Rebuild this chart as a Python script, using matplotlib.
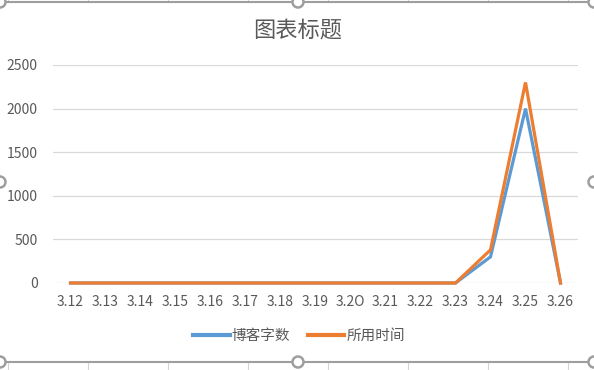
import matplotlib
matplotlib.use("Agg")
import matplotlib.pyplot as plt
from matplotlib.patches import Circle

plt.rcParams['font.family'] = ['Noto Sans CJK SC', 'DejaVu Sans']

# data
dates = ['3.12', '3.13', '3.14', '3.15', '3.16', '3.17', '3.18', '3.19',
         '3.2O', '3.21', '3.22', '3.23', '3.24', '3.25', '3.26']
words = [0, 0, 0, 0, 0, 0, 0, 0, 0, 0, 0, 0, 300, 2000, 0]
minutes = [0, 0, 0, 0, 0, 0, 0, 0, 0, 0, 0, 0, 380, 2300, 0]
y_ticks = [0, 500, 1000, 1500, 2000, 2500]

W, H = 594, 370
txt = '#595959'

fig = plt.figure(figsize=(W / 100, H / 100), dpi=100)
ax = fig.add_axes([53 / W, (H - 283) / H, 525 / W, 218 / H])

x = list(range(len(dates)))
ax.plot(x, words, color='#5B9BD5', linewidth=2.3, label='博客字数',
        clip_on=False, zorder=3, solid_joinstyle='miter')
ax.plot(x, minutes, color='#ED7D31', linewidth=2.3, label='所用时间',
        clip_on=False, zorder=4, solid_joinstyle='miter')

ax.set_xlim(-0.5, len(dates) - 0.5)
ax.set_ylim(0, 2500)
ax.set_xticks(x)
ax.set_xticklabels(dates)
ax.set_yticks(y_ticks)
ax.tick_params(length=0, labelsize=10, labelcolor=txt)
ax.tick_params(axis='y', pad=11)
ax.tick_params(axis='x', pad=9)
ax.grid(axis='y', color='#D9D9D9', linewidth=0.9)
ax.set_axisbelow(True)
for s in ax.spines.values():
    s.set_visible(False)

fig.text(298 / W, 1 - 30 / H, '图表标题', ha='center', va='center',
         fontsize=16, color=txt)

leg = fig.legend(loc='center', bbox_to_anchor=(299 / W, 1 - 336 / H), ncol=2,
                 frameon=False, fontsize=10.5, handlelength=2.5,
                 handletextpad=0.15, columnspacing=1.2)
for t in leg.get_texts():
    t.set_color(txt)
for h in leg.get_lines():
    h.set_linewidth(3)

# chart frame with selection handles and sheet gridlines around it
ov = fig.add_axes([0, 0, 1, 1])
ov.set_xlim(0, W)
ov.set_ylim(H, 0)
ov.axis('off')
for gx in [8, 88, 168, 248, 328, 408, 488, 568]:
    ov.plot([gx, gx], [0, 2], color='#D4D4D4', linewidth=0.8)
    ov.plot([gx, gx], [362, H], color='#D4D4D4', linewidth=0.8)
ov.plot([0, W], [2, 2], color='#9E9E9E', linewidth=1.5)
ov.plot([0, W], [362, 362], color='#9E9E9E', linewidth=1.5)
for hx, hy in [(0, 2), (298, 2), (W, 2), (0, 182), (W, 182),
               (0, 362), (298, 362), (W, 362)]:
    ov.add_patch(Circle((hx, hy), 5.5, facecolor='white', edgecolor='#9E9E9E',
                        linewidth=1.8, zorder=5, clip_on=False))

fig.savefig('out.png', dpi=100)
plt.close(fig)
